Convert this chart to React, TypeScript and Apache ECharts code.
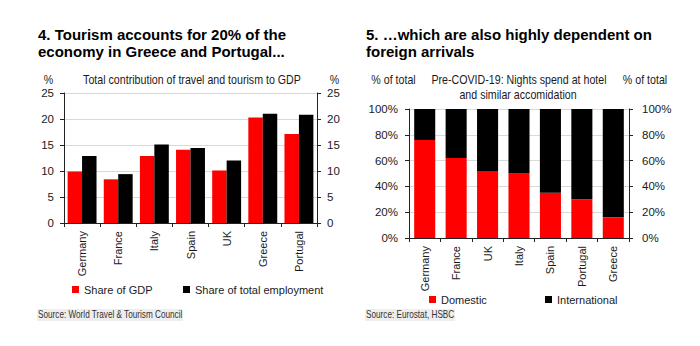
import React, { useEffect, useRef } from "react";
import * as echarts from "echarts";

const leftCategories = ["Germany", "France", "Italy", "Spain", "UK", "Greece", "Portugal"];
const shareGDP = [9.9, 8.4, 12.9, 14.1, 10.1, 20.3, 17.1];
const shareEmployment = [12.9, 9.4, 15.1, 14.4, 12.0, 21.0, 20.8];

const rightCategories = ["Germany", "France", "UK", "Italy", "Spain", "Portugal", "Greece"];
const domestic = [76, 62, 52, 50, 35, 30, 16];
const international = [24, 38, 48, 50, 65, 70, 84];

const FONT = "'Liberation Sans', Arial, sans-serif";
const TXT = "#1a1a1a";
const NARROW = 0.82;

export default function App() {
  const ref = useRef<HTMLDivElement>(null);
  useEffect(() => {
    document.body.style.margin = "0";
    const chart = echarts.init(ref.current!, null, { renderer: "svg" });
    const axisLine = { show: true, lineStyle: { color: "#222", width: 1 } };
    const axisTick = { show: true, length: 4, lineStyle: { color: "#222" } };
    const labelStyle = { color: TXT, fontFamily: FONT, fontSize: 11 };
    const split = { show: true, lineStyle: { color: "#d9d9d9", width: 1 } };

    const txt = (x: number, y: number, text: string, extra: any = {}, size = 13) => ({
      type: "text",
      x,
      y,
      scaleX: NARROW,
      style: {
        text,
        fill: TXT,
        font: `${size}px ${FONT}`,
        textVerticalAlign: "middle",
        ...extra,
      },
    });

    const legendBase = {
      icon: "rect",
      itemWidth: 7,
      itemHeight: 7,
      textStyle: { ...labelStyle, fontSize: 11 },
    };

    chart.setOption({
      animation: false,
      textStyle: { fontFamily: FONT },
      grid: [
        { left: 64, right: 383, top: 93, height: 130 },
        { left: 409, right: 71, top: 109, height: 129 },
      ],
      xAxis: [
        {
          gridIndex: 0,
          type: "category",
          data: leftCategories,
          axisLine,
          axisTick: { ...axisTick, alignWithLabel: false },
          axisLabel: { ...labelStyle, rotate: 90, margin: 8, interval: 0 },
        },
        {
          gridIndex: 1,
          type: "category",
          data: rightCategories,
          axisLine,
          axisTick: { ...axisTick, alignWithLabel: false },
          axisLabel: { ...labelStyle, rotate: 90, margin: 8, interval: 0 },
        },
      ],
      yAxis: [
        {
          gridIndex: 0,
          type: "value",
          position: "left",
          min: 0,
          max: 25,
          interval: 5,
          axisLine,
          axisTick,
          splitLine: split,
          axisLabel: { ...labelStyle, fontSize: 11.5, margin: 10 },
        },
        {
          gridIndex: 0,
          type: "value",
          position: "right",
          min: 0,
          max: 25,
          interval: 5,
          axisLine,
          axisTick,
          splitLine: { show: false },
          axisLabel: { ...labelStyle, fontSize: 11.5, margin: 10 },
        },
        {
          gridIndex: 1,
          type: "value",
          position: "left",
          min: 0,
          max: 100,
          interval: 20,
          axisLine,
          axisTick,
          splitLine: split,
          axisLabel: { ...labelStyle, fontSize: 11.5, margin: 11, formatter: "{value}%" },
        },
        {
          gridIndex: 1,
          type: "value",
          position: "right",
          min: 0,
          max: 100,
          interval: 20,
          axisLine,
          axisTick,
          splitLine: { show: false },
          axisLabel: { ...labelStyle, fontSize: 11.5, margin: 13, formatter: "{value}%" },
        },
      ],
      legend: [
        { ...legendBase, data: ["Share of GDP"], left: 67, top: 279 },
        { ...legendBase, data: ["Share of total employment"], left: 178, top: 279 },
        { ...legendBase, data: ["Domestic"], left: 424, top: 289 },
        { ...legendBase, data: ["International"], left: 540, top: 289 },
      ],
      series: [
        {
          name: "Share of GDP",
          type: "bar",
          xAxisIndex: 0,
          yAxisIndex: 0,
          data: shareGDP,
          barGap: "0%",
          barCategoryGap: "20%",
          itemStyle: { color: "#ff0000" },
        },
        {
          name: "Share of total employment",
          type: "bar",
          xAxisIndex: 0,
          yAxisIndex: 0,
          data: shareEmployment,
          barGap: "0%",
          barCategoryGap: "20%",
          itemStyle: { color: "#000000" },
        },
        {
          name: "Domestic",
          type: "bar",
          stack: "nights",
          xAxisIndex: 1,
          yAxisIndex: 2,
          data: domestic,
          barCategoryGap: "33%",
          itemStyle: { color: "#ff0000" },
        },
        {
          name: "International",
          type: "bar",
          stack: "nights",
          xAxisIndex: 1,
          yAxisIndex: 2,
          data: international,
          barCategoryGap: "33%",
          itemStyle: { color: "#000000" },
        },
      ],
      graphic: [
        {
          type: "text",
          x: 38,
          y: 26,
          style: {
            text: "4. Tourism accounts for 20% of the\neconomy in Greece and Portugal...",
            fill: "#000",
            font: `bold 15px ${FONT}`,
            lineHeight: 17,
          },
        },
        {
          type: "text",
          x: 366,
          y: 26,
          style: {
            text: "5. \u2026which are also highly dependent on\nforeign arrivals",
            fill: "#000",
            font: `bold 15px ${FONT}`,
            lineHeight: 17,
          },
        },
        txt(192, 80, "Total contribution of travel and tourism to GDP", { textAlign: "center" }),
        txt(48.5, 80, "%", { textAlign: "center" }),
        txt(334.5, 80, "%", { textAlign: "center" }),
        txt(519, 80, "Pre-COVID-19: Nights spend at hotel", { textAlign: "center" }),
        txt(518, 95, "and similar accomidation", { textAlign: "center" }),
        txt(393.5, 80, "% of total", { textAlign: "center" }),
        txt(645, 80, "% of total", { textAlign: "center" }),
        {
          type: "rect",
          shape: { x: 37, y: 309, width: 146, height: 12 },
          style: { fill: "#eeeeee" },
          z: 0,
        },
        {
          type: "rect",
          shape: { x: 365, y: 309, width: 90, height: 12 },
          style: { fill: "#eeeeee" },
          z: 0,
        },
        txt(38, 315, "Source: World Travel & Tourism Council", { fill: "#333" }, 10),
        txt(366, 315, "Source: Eurostat, HSBC", { fill: "#333" }, 10),
      ],
    });
    return () => chart.dispose();
  }, []);
  return <div ref={ref} style={{ width: 700, height: 346 }} />;
}
